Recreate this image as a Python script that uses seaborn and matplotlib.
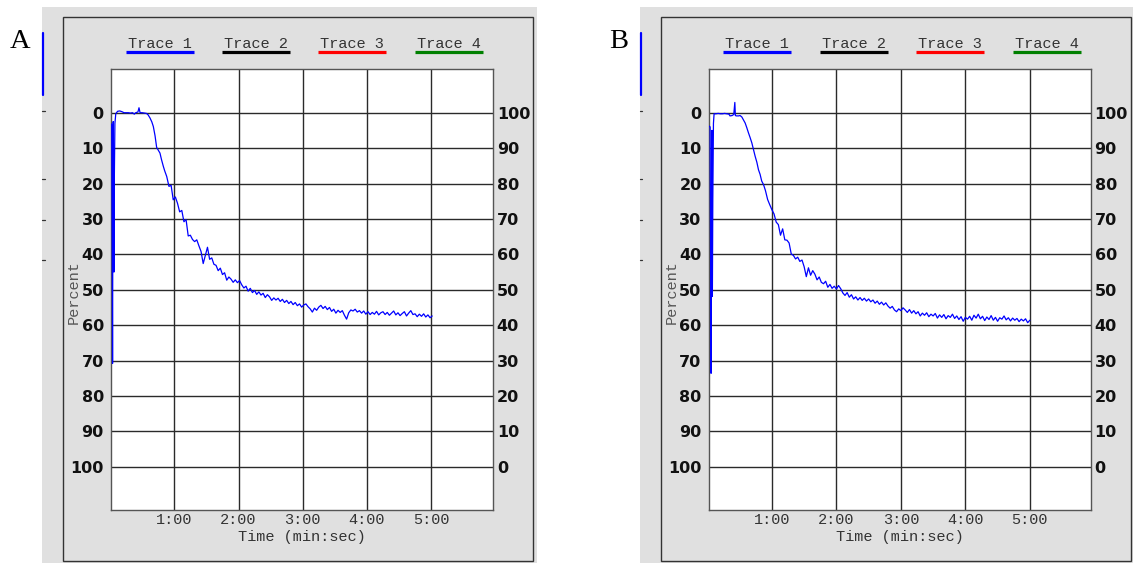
import numpy as np
import pandas as pd
import matplotlib
matplotlib.use("Agg")
import matplotlib.pyplot as plt
from matplotlib.patches import Rectangle
from matplotlib.lines import Line2D
import seaborn as sns

# ---------------- data ----------------
panel_labels = ["A", "B"]
trace_names = ["Trace 1", "Trace 2", "Trace 3", "Trace 4"]
trace_colors = ["#0000ff", "#000000", "#ff0000", "#008000"]
x_tick_sec = [60, 120, 180, 240, 300]
x_tick_labels = ["1:00", "2:00", "3:00", "4:00", "5:00"]
left_ticks = [0, 10, 20, 30, 40, 50, 60, 70, 80, 90, 100]
right_tick_labels = ["100", "90", "80", "70", "60", "50", "40", "30", "20", "10", "0"]

# Panel A: start-up and initial decline (time in s, percent)
A_start_t = [0.6, 1.5, 2.0, 2.3, 2.6, 2.9, 3.3, 3.6, 3.9, 4.5, 5.3, 7, 9, 11, 13, 15,
             17, 19, 21, 22.6, 24, 26, 27, 28, 30, 32, 34, 35.5, 37.3, 39, 40.4, 42,
             43.5, 45, 46.6, 48, 49.7, 51, 52.9]
A_start_pct = [3, 3.5, 40, 70.8, 20, 2.5, 30, 45, 20, 3, 0.3, -0.4, -0.5, -0.3, 0, 0,
               0, 0.1, 0, 0.4, 0, -0.2, -1.4, 0, 0, 0.1, 0.2, 0.6, 1.5, 2.6, 3.9, 6.5,
               9.8, 10.6, 11.4, 13.2, 15.1, 16.4, 18.0]
# Panel A: noisy part, sampled every 2 s from 55 s
A_noisy_t0 = 55
A_noisy_pct = [20.8, 20.5, 24.6, 23.8, 25.6, 28.0, 27.6, 30.8, 30.2, 34.8, 34.6, 35.8,
               36.4, 35.9, 37.6, 39.2, 42.6, 40.3, 38.0, 41.4, 41.0, 42.8, 43.1, 44.6,
               43.9, 45.7, 45.2, 47.3, 46.4, 47.0, 47.9, 47.2, 48.0, 47.4, 48.6, 49.5,
               49.0, 50.4, 49.6, 50.8, 50.2, 51.3, 50.6, 51.5, 51.0, 52.2, 51.4, 52.0,
               53.0, 52.3, 52.9, 52.4, 53.3, 52.7, 53.6, 53.0, 53.9, 53.3, 54.2, 53.6,
               54.5, 54.0, 54.9, 54.3, 54.0, 54.8, 55.4, 56.3, 55.2, 55.8, 54.9, 54.4,
               55.3, 54.7, 55.6, 55.0, 56.1, 55.5, 56.6, 55.8, 56.4, 55.9, 57.2, 58.3,
               56.5, 55.7, 56.0, 55.5, 56.3, 55.9, 56.6, 56.0, 56.9, 56.2, 57.0, 56.4,
               56.9, 56.1, 57.1, 56.5, 56.2, 57.0, 56.4, 57.2, 56.6, 56.0, 57.1, 56.5,
               57.3, 56.7, 56.2, 57.4, 56.6, 55.9, 57.0, 56.8, 57.6, 56.9, 57.5, 56.8,
               57.7, 57.1, 57.9, 57.4]

# Panel B
B_start_t = [1.5, 2.5, 3.0, 3.4, 3.8, 4.2, 4.6, 5.0, 5.6, 6.2, 8, 10, 12, 14, 16, 18,
             20, 21, 23, 24.5, 25.5, 26, 27, 29, 30.4, 32, 33.5, 35.1, 36.6, 38.2, 39.7,
             41.3, 42.8, 44.4, 46, 47.5, 49, 50.5, 52.2]
B_start_pct = [3.8, 4, 40, 73.6, 30, 5, 51.9, 25, 3, 0.3, 0.3, 0.2, 0.3, 0.3, 0.2, 0.3,
               0.4, 0.9, 0.8, 0.5, -2.9, 0.8, 0.9, 0.9, 0.8, 1.2, 2.0, 2.9, 4.2, 5.7, 7.0,
               8.5, 10.3, 12.3, 14.0, 16.1, 17.4, 19.3, 20.3]
B_noisy_t0 = 54
B_noisy_pct = [22.0, 24.5, 26.0, 27.4, 28.6, 30.9, 31.6, 34.6, 32.8, 35.9, 36.0, 36.8,
               39.9, 40.3, 41.3, 40.8, 42.0, 41.6, 43.5, 46.3, 43.8, 45.9, 44.6, 45.6,
               47.2, 46.4, 47.9, 48.3, 47.6, 49.3, 48.5, 49.6, 49.0, 49.8, 48.8, 49.7,
               50.9, 51.6, 50.8, 52.1, 51.4, 52.6, 52.0, 52.9, 52.2, 53.0, 52.4, 53.2,
               52.6, 53.4, 52.9, 53.8, 53.2, 54.1, 53.5, 54.3, 53.7, 54.6, 55.2, 54.7,
               55.7, 56.2, 55.4, 55.9, 55.1, 55.7, 56.4, 55.6, 56.6, 55.9, 56.8, 56.2,
               57.4, 56.6, 57.2, 56.5, 57.6, 56.9, 57.4, 56.7, 58.0, 57.1, 57.8, 57.0,
               58.2, 57.3, 57.8, 56.9, 58.1, 57.4, 58.4, 57.6, 58.9, 57.8, 58.3, 57.5,
               58.6, 57.2, 58.0, 56.9, 58.2, 57.5, 58.7, 57.7, 58.4, 57.3, 58.6, 57.8,
               58.9, 57.9, 58.3, 57.4, 58.5, 57.9, 58.8, 58.0, 58.6, 58.1, 59.0, 58.3,
               58.8, 58.2, 59.3, 58.6]
SAMPLE_STEP = 2


def build_frame(start_t, start_pct, t0, noisy):
    t = list(start_t) + [t0 + SAMPLE_STEP * i for i in range(len(noisy))]
    p = list(start_pct) + list(noisy)
    return pd.DataFrame({"time": t, "pct": p})


frames = [build_frame(A_start_t, A_start_pct, A_noisy_t0, A_noisy_pct),
          build_frame(B_start_t, B_start_pct, B_noisy_t0, B_noisy_pct)]

# ---------------- style ----------------
sns.set_theme(style="white")
plt.rcParams["font.family"] = ["DejaVu Sans"]

W, H = 1133, 563
fig = plt.figure(figsize=(W / 100, H / 100), dpi=100, facecolor="white")


def fx(x):
    return x / W


def fy(y):
    return 1 - y / H


mono = "Liberation Mono"
offsets = [0, 597.8]
xlims = [(0.56, 358.1), (1.0, 357.0)]
legend_centers = [159.5, 255.7, 352.0, 448.8]

for k, df in enumerate(frames):
    o = offsets[k]
    # grey panel background
    fig.patches.append(Rectangle((fx(42.2 + o), 0), fx(495), fy(6.7),
                                 transform=fig.transFigure, facecolor="#e0e0e0",
                                 edgecolor="none", zorder=-10))
    # inner border
    fig.patches.append(Rectangle((fx(63.3 + o), fy(560.7)), fx(470), (560.7 - 17.3) / H,
                                 transform=fig.transFigure, facecolor="none",
                                 edgecolor="#333333", lw=1.0, zorder=1))
    # blue marker bar and small dashes on the left edge
    fig.lines.append(Line2D([fx(43.0 + o)] * 2, [fy(33.3), fy(95)], transform=fig.transFigure,
                            color="#0000ff", lw=1.6))
    for yy in [111, 179.3, 220, 260]:
        fig.lines.append(Line2D([fx(42.2 + o), fx(44.5 + o)], [fy(yy)] * 2,
                                transform=fig.transFigure, color="#333333", lw=0.9))
    # panel letter
    fig.text(fx(20.4 + o), fy(48.3), panel_labels[k], family="Liberation Serif",
             fontsize=20.5, ha="center", va="baseline", color="black")
    # legend
    for name, col, c in zip(trace_names, trace_colors, legend_centers):
        fig.text(fx(c + o), fy(44.3), name, family=mono, fontsize=11, ha="center",
                 va="center", color="#333333")
        fig.lines.append(Line2D([fx(c - 34 + o), fx(c + 34 + o)], [fy(51.7)] * 2,
                                transform=fig.transFigure, color=col, lw=2.3,
                                solid_capstyle="butt"))

    # axes
    left = 110.7 + o
    ax = fig.add_axes([fx(left), fy(510), 382.6 / W, (510 - 69.3) / H])
    ax.set_facecolor("white")
    sns.lineplot(data=df, x="time", y="pct", ax=ax, color="#0000ff", lw=0.9,
                 estimator=None, sort=False, zorder=3)
    ax.set_xlim(*xlims[k])
    ax.set_ylim(112.2, -12.26)
    ax.set_xticks(x_tick_sec)
    ax.set_xticklabels(x_tick_labels, family=mono, fontsize=11, color="#333333")
    ax.set_yticks(left_ticks)
    ax.set_yticklabels([str(v) for v in left_ticks], fontsize=11.5, fontweight="bold",
                       color="#111111")
    ax.tick_params(axis="x", length=0, pad=2)
    ax.tick_params(axis="y", length=0, pad=5)
    for v in left_ticks:
        ax.axhline(v, color="#2a2a2a", lw=1.0, zorder=1)
    for v in x_tick_sec:
        ax.axvline(v, color="#2a2a2a", lw=1.0, zorder=1)
    for s in ax.spines.values():
        s.set_color("#555555")
        s.set_linewidth(1.0)
    ax.set_xlabel("Time (min:sec)", family=mono, fontsize=11, color="#333333", labelpad=2.5)
    ax.set_ylabel("Percent", family=mono, fontsize=11, color="#555555", va="center")
    ax.yaxis.set_label_coords(-0.097, 0.494)

    ax2 = ax.twinx()
    ax2.set_ylim(100 - 112.2, 100 + 12.26)
    ax2.set_yticks(left_ticks)
    ax2.set_yticklabels(right_tick_labels[::-1], fontsize=11.5, fontweight="bold",
                        color="#111111")
    ax2.tick_params(axis="y", length=0, pad=2.5)
    for s in ax2.spines.values():
        s.set_visible(False)

fig.savefig("out.png", dpi=100, facecolor="white")
